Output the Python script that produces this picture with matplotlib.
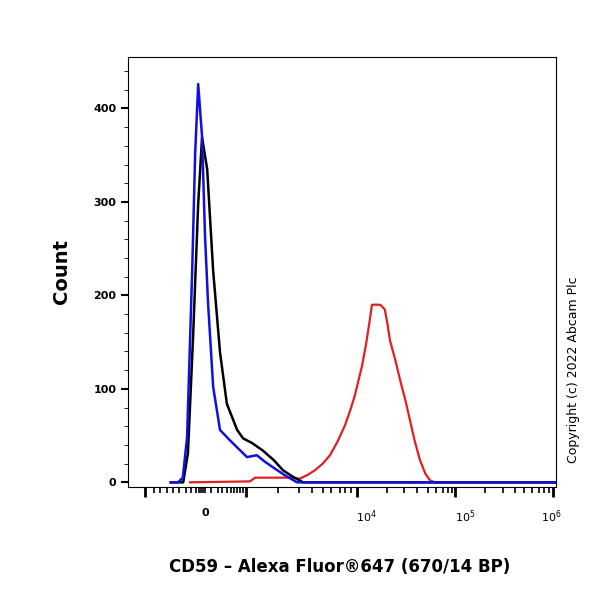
import matplotlib
matplotlib.use("Agg")
import matplotlib.pyplot as plt

# x in display channels (0-1000), counts
blue_x = [100, 117, 128, 138, 150, 157, 164, 173, 180, 187, 199, 215, 238, 258,
          278, 301, 320, 339, 365, 395, 1000]
blue_y = [0, 0, 5, 48, 227, 353, 426, 370, 263, 192, 102, 56, 45, 36,
          27, 29, 22, 16, 8, 0, 0]
black_x = [100, 129, 140, 152, 164, 173, 185, 199, 215, 231, 255, 269, 290, 315,
           340, 362, 385, 409, 1000]
black_y = [0, 0, 31, 155, 298, 369, 335, 226, 139, 84, 56, 47, 42, 34,
           24, 13, 6, 0, 0]
red_x = [145, 285, 297, 379, 402, 420, 437, 455, 472, 490, 507, 520, 530, 547,
         557, 565, 570, 582, 589, 600, 606, 612, 625, 636, 648, 659, 670, 682,
         695, 706, 717, 1000]
red_y = [0, 1, 5, 5, 4, 8, 13, 20, 29, 44, 61, 78, 93, 125,
         150, 174, 190, 190, 190, 185, 170, 152, 130, 109, 88, 66, 44, 24,
         9, 2, 0, 0]

major_pos = [40, 276, 535, 764, 993]
minor_pos = [60, 75, 90, 105, 120, 135, 147, 158, 165, 170, 175, 180, 195, 210,
             220, 232, 240, 248, 255, 262, 268, 350, 400, 430, 455, 475, 495,
             508, 522, 605, 645, 675, 700, 720, 736, 748, 757, 835, 875, 905,
             925, 945, 960, 972, 983]
x_labels = [(180, "0"), (558, "$10^4$"), (787, "$10^5$"), (988, "$10^6$")]

fig = plt.figure(figsize=(6, 6), dpi=100)
ax = fig.add_axes([128 / 600, 113 / 600, 428 / 600, 430 / 600])
ax.plot(red_x, red_y, color="#e02020", lw=1.6)
ax.plot(black_x, black_y, color="black", lw=1.8)
ax.plot(blue_x, blue_y, color="#1010e0", lw=1.8)

ax.set_xlim(0, 1000)
ax.set_ylim(-5, 455)
ax.set_yticks([0, 100, 200, 300, 400])
ax.set_yticks(range(0, 460, 20), minor=True)
ax.set_xticks(major_pos)
ax.set_xticks(minor_pos, minor=True)
ax.set_xticklabels([])
ax.tick_params(axis="x", which="major", length=7, width=2, direction="out")
ax.tick_params(axis="x", which="minor", length=4, width=1.2, direction="out")
ax.tick_params(axis="y", which="major", length=5, width=1.5, labelsize=8)
ax.tick_params(axis="y", which="minor", length=3)
for lbl in ax.get_yticklabels():
    lbl.set_fontweight("bold")
for pos, txt in x_labels:
    ax.text(pos, -28, txt, ha="center", va="top", fontsize=8, fontweight="bold")
for s in ax.spines.values():
    s.set_linewidth(0.8)

fig.text(62 / 600, 1 - 272 / 600, "Count", rotation=90, ha="center", va="center",
         fontsize=14, fontweight="bold")
fig.text(340 / 600, 1 - 567 / 600, "CD59 \u2013 Alexa Fluor\u00ae647 (670/14 BP)",
         ha="center", va="center", fontsize=12, fontweight="bold")
fig.text(573 / 600, 1 - 370 / 600, "Copyright (c) 2022 Abcam Plc", rotation=90,
         ha="center", va="center", fontsize=9)
fig.savefig("out.png")
